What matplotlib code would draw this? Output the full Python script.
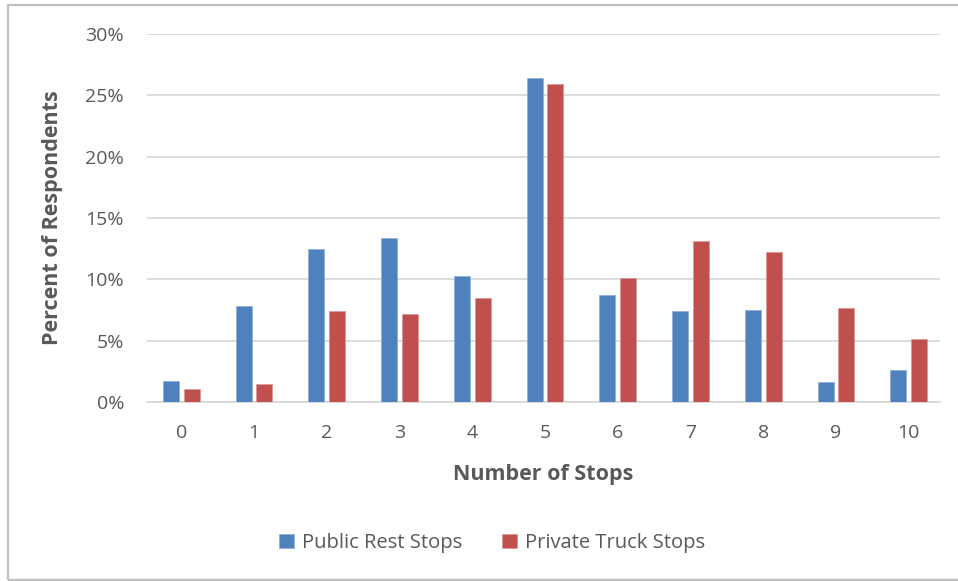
import matplotlib.pyplot as plt
import numpy as np
from matplotlib.patches import Rectangle

stops = ["0", "1", "2", "3", "4", "5", "6", "7", "8", "9", "10"]
public_rest = [1.7, 7.8, 12.5, 13.4, 10.3, 26.4, 8.7, 7.4, 7.5, 1.6, 2.6]
private_truck = [1.1, 1.5, 7.4, 7.2, 8.5, 25.9, 10.1, 13.1, 12.2, 7.7, 5.1]
y_ticks = [0, 5, 10, 15, 20, 25, 30]

W, H = 958, 581
fig = plt.figure(figsize=(W / 100, H / 100), dpi=100)
plt.rcParams['font.family'] = ['Open Sans', 'DejaVu Sans']
text_color = "#595959"

# outer chart frame
fig.patches.append(Rectangle((8 / W, 1 / H), 1.0, (H - 6) / H, transform=fig.transFigure,
                             fill=False, edgecolor="#bfbfbf", linewidth=1.6, zorder=0))

ax = fig.add_axes([147 / W, (H - 402) / H, (940 - 147) / W, (402 - 34) / H])
x = np.arange(len(stops))
w = 0.22
off = 0.143
ax.bar(x - off, public_rest, width=w, color="#4F81BD", edgecolor="#8fb0d8", linewidth=0.6,
       label="Public Rest Stops", zorder=3)
ax.bar(x + off, private_truck, width=w, color="#C0504D", edgecolor="#dc9896", linewidth=0.6,
       label="Private Truck Stops", zorder=3)

ax.set_xlim(-0.47, 10.43)
ax.set_ylim(0, 30)
ax.set_yticks(y_ticks)
ax.set_yticklabels([f"{v}%" for v in y_ticks])
ax.set_xticks(x)
ax.set_xticklabels(stops)
ax.yaxis.grid(True, color="#d9d9d9", linewidth=1.3, zorder=0)
for s in ["top", "right", "left"]:
    ax.spines[s].set_visible(False)
ax.spines["bottom"].set_color("#d9d9d9")
ax.spines["bottom"].set_linewidth(1.3)
ax.tick_params(axis="both", length=0, colors=text_color, labelsize=14)
ax.tick_params(axis="y", pad=16.5)
ax.tick_params(axis="x", pad=16)

ax.set_xlabel("Number of Stops", fontsize=15.5, fontweight="bold", color=text_color, labelpad=16)
ax.set_ylabel("Percent of Respondents", fontsize=15.5, fontweight="bold", color=text_color, labelpad=16)

leg = fig.legend(loc="center", bbox_to_anchor=(492 / W, 1 - 543 / H), ncol=2, frameon=False,
                 fontsize=14.5, handlelength=0.75, handleheight=0.75, columnspacing=2.0,
                 handletextpad=0.4)
for t in leg.get_texts():
    t.set_color(text_color)

fig.savefig("out.png", dpi=100)
